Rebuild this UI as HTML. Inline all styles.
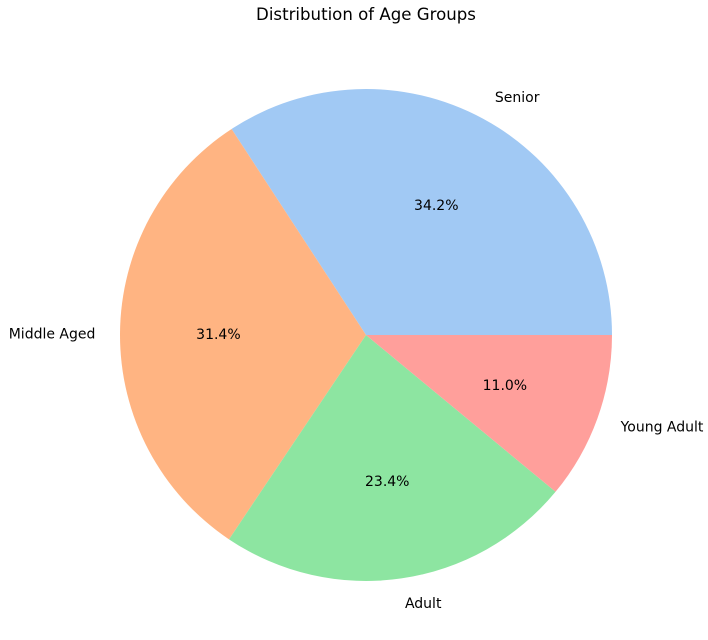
<!DOCTYPE html>
<html><head><meta charset="utf-8">
<style>
html,body{margin:0;padding:0;background:#fff;}
svg{display:block;font-family:"DejaVu Sans","Liberation Sans",sans-serif;}
</style></head>
<body>
<svg id="chart" width="708" height="640" viewBox="0 0 708 640">
<text x="366" y="20" text-anchor="middle" font-size="16.6" fill="#000">Distribution of Age Groups</text>
<g id="slices"></g>
</svg>
<script>
const categories = ["Senior", "Middle Aged", "Adult", "Young Adult"];
const shares = [34.2, 31.4, 23.4, 11.0];
const colors = ["#a1c9f4", "#ffb482", "#8de5a1", "#ff9f9b"];
const cx = 366, cy = 335, R = 246;
const g = document.getElementById('slices');
const NS = 'http://www.w3.org/2000/svg';
const total = shares.reduce((a,b)=>a+b,0);
let start = 0;
shares.forEach((v,i)=>{
  const sweep = v/total*2*Math.PI;
  const a0 = start, a1 = start+sweep;
  const x0 = cx+R*Math.cos(a0), y0 = cy-R*Math.sin(a0);
  const x1 = cx+R*Math.cos(a1), y1 = cy-R*Math.sin(a1);
  const large = sweep>Math.PI?1:0;
  const p = document.createElementNS(NS,'path');
  p.setAttribute('d',`M${cx},${cy} L${x0},${y0} A${R},${R} 0 ${large} 0 ${x1},${y1} Z`);
  p.setAttribute('fill',colors[i]);
  
  
  g.appendChild(p);
  const mid = (a0+a1)/2;
  const lx = cx+1.1*R*Math.cos(mid), ly = cy-1.1*R*Math.sin(mid);
  const t = document.createElementNS(NS,'text');
  t.setAttribute('x',lx); t.setAttribute('y',ly+1);
  t.setAttribute('text-anchor', Math.cos(mid)>=0?'start':'end');
  t.setAttribute('dominant-baseline','central');
  t.setAttribute('font-size','14');
  t.textContent = categories[i];
  
  
  g.appendChild(t);
  const px = cx+0.6*R*Math.cos(mid), py = cy-0.6*R*Math.sin(mid);
  const pt = document.createElementNS(NS,'text');
  pt.setAttribute('x',px); pt.setAttribute('y',py+1);
  pt.setAttribute('text-anchor','middle');
  pt.setAttribute('dominant-baseline','central');
  pt.setAttribute('font-size','14');
  pt.textContent = (v/total*100).toFixed(1)+'%';
  
  
  g.appendChild(pt);
  start = a1;
});
</script>
</body></html>
